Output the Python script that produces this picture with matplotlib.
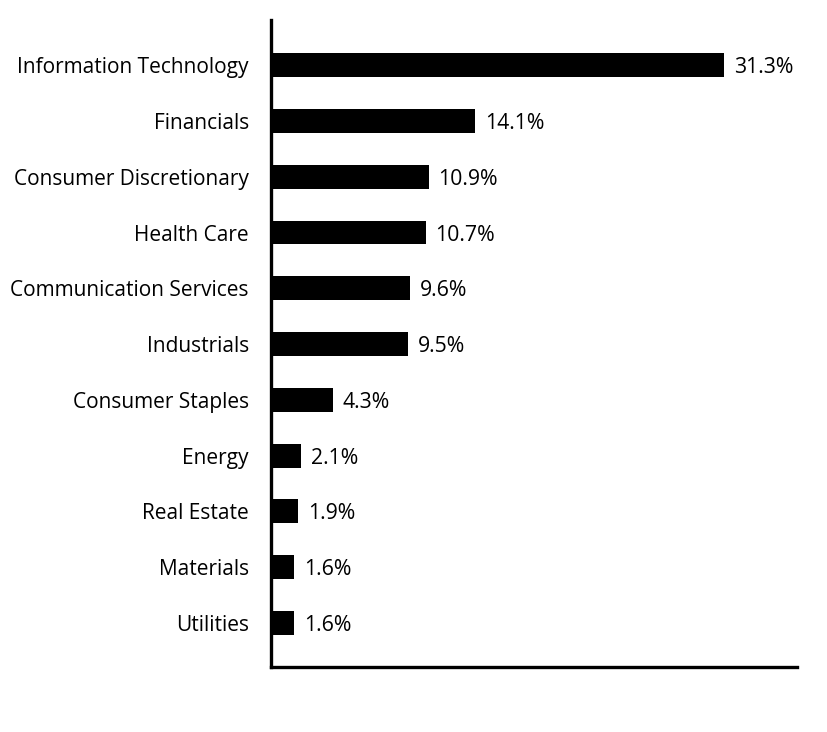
import matplotlib
matplotlib.use('Agg')
from matplotlib import pyplot as plt

sectors = ['Information Technology', 'Financials', 'Consumer Discretionary', 'Health Care',
           'Communication Services', 'Industrials', 'Consumer Staples', 'Energy',
           'Real Estate', 'Materials', 'Utilities']
weights = [31.3, 14.1, 10.9, 10.7, 9.6, 9.5, 4.3, 2.1, 1.9, 1.6, 1.6]
value_labels = ['31.3%', '14.1%', '10.9%', '10.7%', '9.6%', '9.5%', '4.3%', '2.1%', '1.9%', '1.6%', '1.6%']

plt.rcParams['font.family'] = ['Open Sans', 'DejaVu Sans']

fig = plt.figure(figsize=(8.28, 7.32), dpi=100)
ax = fig.add_axes([271 / 828, 1 - 667 / 732, (797 - 271) / 828, (667 - 20) / 732])

pos = list(range(len(sectors)))
ax.barh(pos, weights, height=0.43, color='black')
for y, w, lab in zip(pos, weights, value_labels):
    ax.annotate(lab, (w, y), xytext=(7, 0), textcoords='offset points',
                va='center_baseline', ha='left', fontsize=15.3)

ax.set_xlim(0, 36.35)
ax.set_ylim(len(sectors) - 0.21, -0.81)
ax.set_yticks(pos)
ax.set_yticklabels(sectors, fontsize=15, va='center_baseline')
ax.tick_params(axis='y', length=0, pad=16)
ax.set_xticks([])
for side in ['top', 'right']:
    ax.spines[side].set_visible(False)
for side in ['left', 'bottom']:
    ax.spines[side].set_linewidth(2.4)

fig.savefig('out.png', dpi=100)
